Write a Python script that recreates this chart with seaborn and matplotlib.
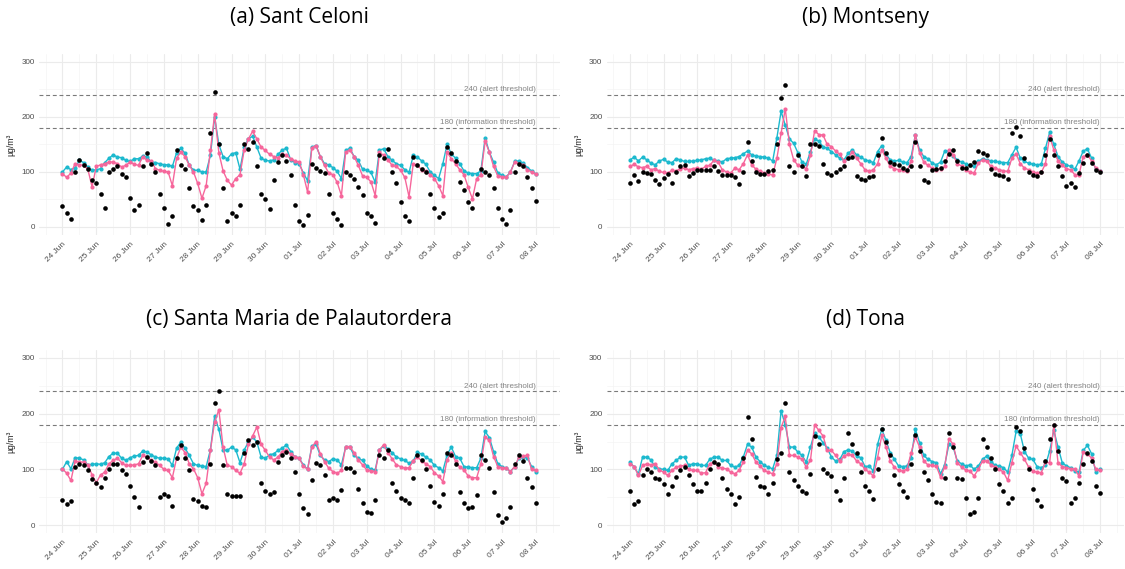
import pandas as pd
import matplotlib
matplotlib.use("Agg")
import matplotlib.pyplot as plt
import matplotlib.dates as mdates
from matplotlib.ticker import MultipleLocator
import seaborn as sns

# Hourly ozone series sampled every 3 hours, 24 Jun 00:00 -> 08 Jul 00:00
times = pd.date_range("2019-06-24 00:00", "2019-07-08 00:00", freq="3h")

# ---------------- (a) Sant Celoni ----------------
obs_a = [38, 25, 15, 100, 122, 112, 105, 85,
         80, 60, 35, 100, 105, 110, 97, 90,
         52, 30, 40, 110, 135, 115, 100, 60,
         35, 5, 20, 140, 112, 106, 70, 38,
         30, 12, 40, 170, 245, 150, 70, 10,
         25, 20, 40, 150, 142, 154, 110, 60,
         50, 33, 85, 118, 130, 120, 95, 40,
         10, 3, 22, 115, 108, 102, 98, 60,
         25, 15, 3, 100, 95, 88, 72, 58,
         25, 20, 8, 130, 125, 142, 100, 80,
         45, 20, 10, 128, 112, 105, 100, 60,
         35, 18, 25, 145, 135, 120, 82, 67,
         45, 35, 60, 105, 100, 95, 70, 35,
         15, 5, 30, 100, 115, 110, 90, 70,
         48]
cyan_a = [100, 109, 104, 108, 121, 117, 109, 103,
          104, 106, 117, 125, 131, 127, 126, 121,
          119, 124, 124, 129, 127, 118, 117, 115,
          113, 113, 110, 135, 143, 134, 112, 103,
          103, 100, 100, 130, 200, 150, 128, 124,
          133, 135, 105, 145, 160, 165, 145, 125,
          121, 120, 122, 132, 140, 143, 122, 117,
          115, 98, 84, 145, 148, 128, 115, 112,
          108, 101, 88, 139, 143, 128, 121, 105,
          103, 99, 81, 140, 142, 128, 121, 115,
          112, 104, 99, 130, 127, 120, 114, 100,
          94, 88, 115, 150, 133, 125, 115, 102,
          98, 97, 97, 102, 162, 136, 118, 98,
          94, 91, 100, 119, 120, 116, 108, 102,
          96]
pink_a = [97, 90, 98, 115, 113, 112, 105, 73,
          110, 113, 115, 118, 118, 115, 109, 112,
          118, 114, 112, 128, 121, 120, 106, 103,
          101, 100, 75, 125, 136, 128, 112, 100,
          79, 52, 75, 139, 205, 135, 102, 85,
          76, 88, 95, 140, 160, 174, 160, 145,
          139, 132, 128, 126, 132, 130, 124, 120,
          118, 95, 63, 144, 148, 128, 112, 98,
          95, 81, 57, 136, 140, 128, 112, 93,
          90, 82, 57, 136, 130, 122, 112, 110,
          103, 90, 55, 115, 112, 104, 101, 95,
          88, 75, 57, 136, 124, 115, 104, 95,
          72, 51, 88, 95, 156, 136, 110, 93,
          91, 90, 100, 118, 115, 113, 104, 100,
          96]

# ---------------- (b) Montseny ----------------
obs_b = [80, 95, 83, 100, 98, 96, 86, 78,
         89, 97, 80, 100, 110, 113, 92, 98,
         104, 104, 104, 104, 110, 102, 95, 95,
         95, 90, 78, 100, 155, 120, 100, 96,
         97, 102, 104, 150, 235, 258, 110, 100,
         130, 110, 92, 150, 150, 148, 115, 98,
         95, 100, 105, 110, 125, 128, 92, 88,
         86, 90, 92, 130, 162, 135, 118, 115,
         112, 108, 104, 110, 155, 110, 85, 82,
         104, 106, 107, 120, 132, 140, 120, 107,
         108, 112, 118, 138, 135, 130, 105, 97,
         95, 93, 88, 170, 182, 165, 125, 100,
         95, 93, 100, 130, 160, 130, 110, 92,
         75, 80, 72, 98, 116, 130, 116, 104,
         100]
cyan_b = [122, 127, 120, 127, 122, 116, 113, 120,
          123, 118, 117, 124, 122, 119, 119, 120,
          121, 122, 124, 125, 121, 120, 118, 124,
          125, 126, 128, 133, 138, 131, 129, 128,
          127, 125, 120, 162, 210, 185, 160, 152,
          135, 118, 114, 137, 160, 156, 146, 143,
          137, 131, 125, 122, 134, 140, 131, 127,
          122, 120, 117, 137, 148, 132, 122, 120,
          121, 118, 117, 128, 167, 140, 128, 124,
          116, 113, 118, 138, 138, 129, 122, 118,
          115, 112, 110, 119, 124, 122, 120, 119,
          118, 117, 117, 131, 145, 125, 119, 116,
          114, 113, 114, 143, 172, 150, 128, 118,
          113, 110, 105, 120, 138, 142, 125, 105,
          101]
pink_b = [110, 114, 109, 108, 110, 104, 106, 101,
          99, 98, 103, 102, 106, 107, 104, 106,
          107, 105, 110, 112, 121, 118, 104, 100,
          98, 107, 104, 115, 131, 113, 105, 101,
          98, 97, 94, 125, 170, 215, 150, 122,
          112, 110, 106, 130, 175, 168, 167, 150,
          146, 138, 132, 120, 125, 137, 125, 115,
          104, 101, 104, 115, 140, 125, 110, 106,
          104, 104, 101, 120, 167, 135, 118, 112,
          107, 104, 106, 110, 140, 131, 115, 111,
          104, 100, 98, 116, 122, 120, 110, 107,
          104, 102, 101, 125, 133, 115, 107, 104,
          100, 98, 99, 115, 165, 140, 120, 112,
          106, 104, 95, 95, 128, 131, 120, 107,
          102]

# ---------------- (c) Santa Maria de Palautordera ----------------
obs_c = [45, 38, 44, 105, 110, 107, 98, 83,
         76, 68, 85, 100, 110, 110, 98, 92,
         70, 50, 33, 113, 122, 115, 107, 50,
         56, 52, 35, 120, 143, 120, 98, 47,
         44, 35, 33, 110, 219, 240, 107, 56,
         53, 53, 52, 130, 152, 143, 149, 75,
         62, 55, 60, 113, 126, 132, 120, 95,
         55, 30, 20, 80, 112, 108, 90, 45,
         48, 45, 63, 103, 103, 95, 65, 40,
         24, 22, 45, 125, 120, 135, 75, 62,
         48, 45, 40, 85, 125, 117, 100, 70,
         42, 35, 55, 129, 126, 110, 60, 40,
         30, 33, 54, 125, 117, 102, 60, 18,
         6, 12, 33, 110, 125, 115, 85, 69,
         40]
cyan_c = [100, 114, 101, 121, 120, 117, 108, 109,
          110, 109, 112, 123, 129, 129, 120, 116,
          121, 124, 125, 133, 131, 126, 122, 120,
          120, 119, 107, 138, 149, 138, 125, 110,
          107, 106, 105, 135, 195, 172, 135, 134,
          140, 135, 112, 135, 149, 158, 149, 122,
          120, 126, 128, 134, 138, 144, 132, 122,
          120, 108, 100, 142, 145, 125, 117, 114,
          119, 117, 108, 140, 140, 125, 120, 116,
          106, 100, 99, 135, 142, 137, 130, 122,
          119, 116, 111, 115, 131, 127, 122, 117,
          107, 103, 97, 126, 140, 123, 120, 105,
          104, 103, 103, 120, 168, 157, 132, 110,
          105, 102, 96, 105, 120, 122, 121, 105,
          96]
pink_c = [101, 93, 80, 115, 113, 113, 108, 90,
          76, 90, 95, 110, 116, 120, 112, 107,
          107, 108, 110, 125, 122, 116, 113, 107,
          100, 98, 85, 120, 140, 130, 110, 101,
          85, 56, 75, 134, 185, 207, 140, 107,
          105, 98, 93, 110, 145, 160, 176, 145,
          134, 122, 117, 122, 132, 135, 127, 123,
          120, 106, 100, 140, 150, 128, 114, 102,
          96, 93, 98, 141, 141, 130, 117, 108,
          99, 97, 96, 135, 144, 130, 119, 108,
          105, 102, 103, 115, 122, 115, 110, 105,
          94, 88, 78, 117, 130, 115, 104, 99,
          88, 85, 85, 110, 158, 152, 123, 105,
          103, 102, 96, 105, 122, 124, 125, 100,
          98]

# ---------------- (d) Tona ----------------
obs_d = [62, 37, 43, 89, 101, 95, 85, 82,
         74, 56, 70, 86, 98, 105, 90, 74,
         62, 62, 75, 100, 113, 110, 85, 65,
         56, 37, 50, 120, 194, 155, 86, 71,
         68, 55, 75, 118, 130, 220, 95, 80,
         70, 62, 58, 92, 160, 146, 100, 93,
         88, 62, 45, 85, 165, 145, 130, 95,
         70, 62, 46, 100, 172, 150, 125, 90,
         74, 62, 50, 109, 162, 133, 95, 80,
         55, 42, 40, 85, 166, 140, 85, 83,
         48, 20, 24, 48, 155, 140, 120, 100,
         73, 62, 40, 48, 176, 168, 139, 100,
         65, 45, 35, 115, 155, 180, 133, 85,
         79, 40, 48, 75, 110, 130, 115, 70,
         58]
cyan_d = [113, 104, 92, 122, 122, 117, 104, 101,
          100, 98, 110, 116, 122, 122, 107, 110,
          110, 107, 107, 118, 122, 122, 116, 116,
          107, 104, 107, 122, 145, 140, 122, 114,
          107, 104, 101, 125, 205, 180, 140, 140,
          131, 125, 113, 140, 166, 158, 148, 138,
          122, 115, 118, 132, 135, 133, 124, 121,
          105, 106, 97, 145, 172, 152, 130, 118,
          106, 105, 106, 121, 172, 148, 125, 118,
          114, 112, 92, 108, 145, 140, 115, 110,
          106, 108, 100, 106, 118, 124, 114, 107,
          106, 103, 95, 125, 168, 164, 132, 120,
          118, 105, 103, 107, 133, 170, 140, 112,
          106, 103, 97, 95, 134, 143, 128, 95,
          100]
pink_d = [110, 105, 89, 107, 110, 108, 110, 99,
          95, 89, 98, 104, 106, 107, 100, 98,
          98, 93, 94, 110, 113, 105, 102, 101,
          95, 92, 98, 113, 134, 128, 113, 106,
          98, 95, 92, 110, 175, 195, 125, 125,
          122, 118, 104, 116, 180, 170, 160, 134,
          134, 125, 115, 124, 127, 125, 115, 110,
          100, 95, 88, 121, 161, 140, 115, 104,
          98, 97, 100, 130, 158, 140, 115, 108,
          107, 106, 86, 105, 155, 145, 112, 104,
          99, 97, 88, 100, 115, 115, 108, 104,
          100, 95, 80, 112, 142, 130, 118, 104,
          97, 95, 94, 113, 112, 180, 112, 105,
          103, 101, 100, 88, 131, 128, 120, 100,
          98]

titles = ["(a) Sant Celoni", "(b) Montseny",
          "(c) Santa Maria de Palautordera", "(d) Tona"]
stations = [(obs_a, cyan_a, pink_a), (obs_b, cyan_b, pink_b),
            (obs_c, cyan_c, pink_c), (obs_d, cyan_d, pink_d)]

thresholds = [240, 180]
threshold_labels = ["240 (alert threshold)", "180 (information threshold)"]
y_label = "µg/m³"

CYAN = "#1CB9CE"
PINK = "#F6669B"

sns.set_theme(style="white")
plt.rcParams["font.family"] = ["Liberation Sans", "DejaVu Sans"]

fig = plt.figure(figsize=(11.25, 5.69), dpi=100)
W, H = 1125.0, 569.0

# axes boxes in pixels: (left, right, top, bottom)
boxes = [(38.8, 559.5, 53.7, 235.2),
         (606.5, 1123.5, 53.7, 235.2),
         (38.8, 559.5, 349.6, 533.4),
         (606.5, 1123.5, 349.6, 533.4)]
title_y = [18, 18, 320, 320]

day = pd.Timedelta(hours=24)
x0 = times[0] - 0.7 * day
x1 = times[-1] + 0.7 * day

for i, ((obs, cyan, pink), box) in enumerate(zip(stations, boxes)):
    l, r, t, b = box
    ax = fig.add_axes([l / W, 1 - b / H, (r - l) / W, (b - t) / H])

    models = pd.DataFrame({
        "time": list(times) * 2,
        "value": list(cyan) + list(pink),
        "run": ["cyan"] * len(times) + ["pink"] * len(times),
    })
    sns.lineplot(data=models, x="time", y="value", hue="run",
                 hue_order=["cyan", "pink"],
                 palette={"cyan": CYAN, "pink": PINK},
                 marker="o", markersize=3.0, markeredgewidth=0,
                 linewidth=1.0, legend=False, ax=ax, zorder=2)
    measured = pd.DataFrame({"time": times, "value": obs})
    sns.scatterplot(data=measured, x="time", y="value", color="black",
                    s=11, linewidth=0, ax=ax, zorder=3)

    for thr, lab in zip(thresholds, threshold_labels):
        ax.axhline(thr, color="#7a7a7a", lw=0.8, ls=(0, (3.5, 2.5)), zorder=1)
        ax.text(times[-1], thr + 3, lab, ha="right", va="bottom",
                fontsize=5.8, color="#858585")

    ax.set_xlim(x0, x1)
    ax.set_ylim(-15, 315)
    ax.set_yticks([0, 100, 200, 300])
    ax.yaxis.set_minor_locator(MultipleLocator(50))
    ax.xaxis.set_major_locator(mdates.DayLocator())
    ax.xaxis.set_minor_locator(mdates.HourLocator(byhour=[12]))
    ax.xaxis.set_major_formatter(mdates.DateFormatter("%d %b"))

    ax.grid(which="major", color="#EBEBEB", lw=0.8)
    ax.grid(which="minor", color="#F4F4F4", lw=0.5)
    ax.set_axisbelow(True)
    for s in ax.spines.values():
        s.set_visible(False)
    ax.tick_params(which="both", length=0)
    ax.tick_params(axis="y", labelsize=5.8, labelcolor="#4D4D4D", pad=3)
    ax.tick_params(axis="x", labelsize=6.0, labelcolor="#4D4D4D", pad=4)
    for lab in ax.get_xticklabels():
        lab.set_rotation(45)
        lab.set_ha("right")
        lab.set_rotation_mode("anchor")
    ax.set_xlabel("")
    ax.set_ylabel(y_label, fontsize=6.2, color="#222222", labelpad=4)

    fig.text(((l + r) / 2) / W, 1 - title_y[i] / H, titles[i],
             ha="center", va="center", fontsize=15,
             family="Open Sans", color="#000000")

fig.savefig("out.png", dpi=100)
